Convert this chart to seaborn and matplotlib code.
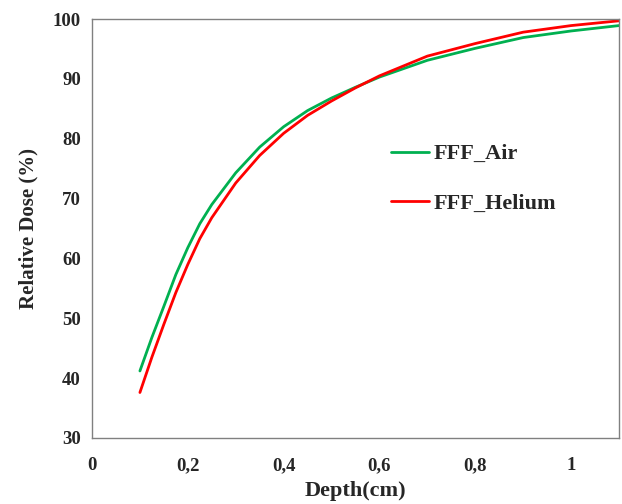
import pandas as pd
import seaborn as sns
import matplotlib.pyplot as plt

# Valores
depth = [0.1, 0.125, 0.15, 0.175, 0.2, 0.225, 0.25, 0.3, 0.35, 0.4, 0.45, 0.5, 0.55, 0.6, 0.7, 0.8, 0.9, 1.0, 1.1]
dose_air = [41.2, 46.8, 52.0, 57.3, 61.8, 65.8, 69.0, 74.3, 78.6, 82.0, 84.7, 86.8, 88.6, 90.3, 93.1, 95.1, 96.9, 98.0, 98.9]
dose_helium = [37.6, 43.5, 49.0, 54.3, 59.0, 63.3, 66.8, 72.6, 77.2, 80.9, 83.9, 86.3, 88.5, 90.5, 93.8, 95.9, 97.8, 98.9, 99.7]
series_names = ["FFF_Air", "FFF_Helium"]
x_ticks = [0, 0.2, 0.4, 0.6, 0.8, 1]
x_tick_labels = ["0", "0,2", "0,4", "0,6", "0,8", "1"]
y_ticks = [30, 40, 50, 60, 70, 80, 90, 100]

df = pd.DataFrame({
    "Depth": depth * 2,
    "Dose": dose_air + dose_helium,
    "Serie": [series_names[0]] * len(depth) + [series_names[1]] * len(depth),
})

sns.set_style("white")
plt.rcParams["font.family"] = ["Liberation Serif", "DejaVu Serif"]
plt.rcParams["font.weight"] = "bold"

fig = plt.figure(figsize=(6.22, 5.04), dpi=100)
ax = fig.add_axes([92 / 622, 1 - 438 / 504, (619 - 92) / 622, (438 - 19) / 504])

sns.lineplot(data=df, x="Depth", y="Dose", hue="Serie",
             palette={"FFF_Air": "#00B050", "FFF_Helium": "#FF0000"},
             linewidth=2.0, ax=ax)

ax.set_xlim(0, 1.1)
ax.set_ylim(30, 100)
ax.set_xticks(x_ticks)
ax.set_xticklabels(x_tick_labels)
ax.set_yticks(y_ticks)
ax.tick_params(axis="both", length=0, labelsize=13.5)
ax.tick_params(axis="x", pad=14)
ax.tick_params(axis="y", pad=8)
for lbl in ax.get_xticklabels() + ax.get_yticklabels():
    lbl.set_fontweight("bold")

ax.set_xlabel("Depth(cm)", fontsize=16, fontweight="bold", labelpad=5)
ax.set_ylabel("Relative Dose (%)", fontsize=15, fontweight="bold", labelpad=10)

for s in ax.spines.values():
    s.set_color("#808080")
    s.set_linewidth(1.0)

leg = ax.legend(title=None, frameon=False, loc="upper left",
                bbox_to_anchor=(0.53, 0.75), handlelength=1.7,
                handletextpad=0.2, labelspacing=1.3,
                prop={"weight": "bold", "size": 16})

fig.savefig("out.png", dpi=100)
